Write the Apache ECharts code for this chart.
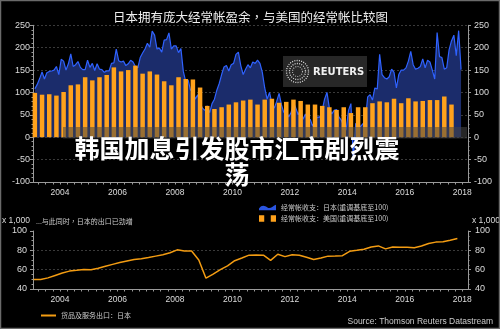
<!DOCTYPE html>
<html><head><meta charset="utf-8">
<script src="https://cdn.jsdelivr.net/npm/echarts@6/dist/echarts.min.js"></script>
<style>html,body{margin:0;padding:0;background:#000;}#c{width:500px;height:329px;}</style>
</head><body><div id="c"></div>
<script>
// ---- data ----
const titleText = '日本拥有庞大经常帐盈余，与美国的经常帐比较图';
const headline = '韩国加息引发股市汇市剧烈震\n荡';
const jpName = '经常帐收支：日本(重调基底至100)';
const usName = '经常帐收支：美国(重调基底至100)';
const exName = '货品及服务出口：日本';
const yearLabels = [2004, 2006, 2008, 2010, 2012, 2014, 2016, 2018];
// Japan current account (monthly, Feb 2003 - Dec 2017)
const jpStart = { year: 2003, month: 2 };
const jp2003 = [108, 118, 131, 146, 130, 144, 147, 148, 150, 158, 140];
const jp2004 = [174, 170, 150, 164, 186, 158, 162, 169, 156, 151, 151, 172];
const jp2005 = [156, 165, 149, 164, 152, 151, 145, 148, 148, 165, 166, 197];
const jp2006 = [171, 168, 170, 160, 164, 172, 168, 158, 155, 178, 188, 197];
const jp2007 = [210, 201, 237, 228, 197, 199, 190, 217, 218, 233, 197, 204];
const jp2008 = [204, 189, 198, 147, 124, 128, 105, 105, 85, 95, 75, 65];
const jp2009 = [60, 70, 55, 75, 85, 105, 120, 140, 157, 160, 148, 162];
const jp2010 = [165, 185, 190, 160, 140, 152, 162, 155, 168, 165, 172, 165];
const jp2011 = [145, 110, 85, 100, 75, 65, 80, 98, 72, 55, 60, 45];
const jp2012 = [55, 78, 65, 50, 62, 40, 52, 30, 40, 25, 35, 45];
const jp2013 = [45, 60, 85, 100, 65, 52, 60, 62, 45, 38, 25, 16];
const jp2014 = [60, 75, -50, 31, 25, 24, 30, 35, 90, 95, 83, 110];
const jp2015 = [108, 185, 140, 133, 130, 135, 152, 145, 110, 140, 150, 150];
const jp2016 = [155, 170, 192, 162, 152, 154, 158, 175, 155, 172, 168, 150];
const jp2017 = [130, 234, 180, 178, 152, 155, 195, 215, 228, 182, 238, 151];
// US current account (quarterly, 2003Q1 - 2017Q3)
const usStartYear = 2003;
const usBars = [99, 95, 96, 93, 101, 116, 118, 134, 127, 134, 139, 156, 147, 150, 160, 142,
  147, 140, 125, 116, 134, 130, 129, 111, 70, 63, 67, 73, 78, 82, 84, 73,
  84, 86, 77, 79, 84, 81, 73, 73, 70, 67, 61, 67, 54, 67, 67, 76,
  80, 78, 86, 76, 87, 80, 81, 83, 83, 91, 73];
// Japan exports of goods & services (quarterly, x1000, 2003Q1 - 2017Q4)
const exStartYear = 2003;
const jpExports = [49.8, 49.8, 51.5, 54, 56.5, 58.5, 59.3, 60.2, 59.9, 61.5, 63.5, 65.5,
  67.5, 69, 70.5, 71.3, 72.5, 74, 75.5, 77.5, 80.5, 79.4, 79.4, 70,
  51.2, 55.3, 60, 64, 69.3, 72, 75, 75.2, 75, 69.6, 75.9, 73.5,
  75.5, 74.9, 72.8, 70.5, 72, 74, 74.2, 74.5, 79, 80, 81.2, 83.5,
  84.6, 81.5, 83.5, 83.3, 83.3, 82.6, 84.5, 87, 88.5, 88.8, 90.5, 92.3];

// ---- build ----
const jpAll = [].concat(jp2003, jp2004, jp2005, jp2006, jp2007, jp2008, jp2009, jp2010,
  jp2011, jp2012, jp2013, jp2014, jp2015, jp2016, jp2017);
const jpData = jpAll.map((v, i) => {
  const m = (jpStart.month - 1) + i;
  return [jpStart.year + (m + 0.5) / 12, v];
});
const usData = usBars.map((v, i) => [usStartYear + (i + 0.5) * 0.25, v]);
const exData = jpExports.map((v, i) => [exStartYear + 0.08 + i * 0.25, v]);
const quarterTicks = [];
for (let t = 2003.25; t <= 2018.01; t += 0.25) quarterTicks.push(+t.toFixed(2));

const xMin = 2003.06, xMax = 2018.2;
const axisColor = '#9a9a9a';
const labelColor = '#dcdcdc';
const font = 'Liberation Sans';

function xAxisFor(grid) {
  return {
    gridIndex: grid, type: 'value', min: xMin, max: xMax,
    axisLine: { show: true, onZero: false, lineStyle: { color: axisColor } },
    axisTick: { show: true, customValues: quarterTicks, length: 2.5, lineStyle: { color: axisColor } },
    axisLabel: { customValues: yearLabels, color: labelColor, fontSize: 8.5, fontFamily: font, margin: 6,
      formatter: v => String(Math.round(v)) },
    splitLine: { show: false }
  };
}
function yAxisFor(grid, pos, min, max, interval, split, margin) {
  return {
    gridIndex: grid, type: 'value', position: pos, min: min, max: max, interval: interval,
    axisLine: { show: true, lineStyle: { color: axisColor } },
    axisTick: { show: true, length: 3, lineStyle: { color: axisColor } },
    minorTick: { show: true, splitNumber: grid === 0 ? 5 : 4, length: 1.5, lineStyle: { color: axisColor } },
    axisLabel: { color: labelColor, fontSize: 9, fontFamily: font, margin: margin,
      formatter: v => String(v) },
    splitLine: { show: split, showMinLine: false, showMaxLine: grid === 0,
      lineStyle: { color: '#3a3a3a', type: [2, 2], width: 1 } }
  };
}

const chart = echarts.init(document.getElementById('c'), null, { renderer: 'canvas' });
chart.setOption({
  backgroundColor: '#000',
  animation: false,
  title: { text: titleText, left: 108, top: 6,
    textStyle: { color: '#eeeeee', fontSize: 12.5, fontWeight: 'normal', fontFamily: 'Noto Sans CJK TC' } },
  grid: [
    { left: 33, right: 32, top: 25.3, bottom: 147 },
    { left: 33, right: 32, top: 231, bottom: 40 }
  ],
  xAxis: [xAxisFor(0), xAxisFor(1)],
  yAxis: [
    yAxisFor(0, 'left', -100, 250, 50, true, 3),
    yAxisFor(0, 'right', -100, 250, 50, false, 6),
    yAxisFor(1, 'left', 40, 100, 20, true, 6),
    yAxisFor(1, 'right', 40, 100, 20, false, 7)
  ],
  legend: [
    { orient: 'vertical', left: 254, top: 199, itemWidth: 17, itemHeight: 7, itemGap: 4,
      textStyle: { color: '#cccccc', fontSize: 7, fontFamily: 'Noto Sans CJK SC' },
      data: [
        { name: jpName, icon: 'path://M0,5 C3,1 6,2 9,4 C12,6 15,2 18,1 L18,7 L0,7 Z', itemStyle: { color: '#2a55e0' } },
        { name: usName, icon: 'path://M0,2 L4,2 L4,7 L0,7 Z M9,2 L13,2 L13,7 L9,7 Z', itemStyle: { color: '#ffa21c' } }
      ] },
    { left: 36, top: 307, itemWidth: 15, itemHeight: 2, icon: 'rect',
      textStyle: { color: '#cccccc', fontSize: 7, fontFamily: 'Noto Sans CJK SC' },
      data: [{ name: exName, itemStyle: { color: '#f39c12' } }] }
  ],
  series: [
    { name: jpName, type: 'line', xAxisIndex: 0, yAxisIndex: 0, data: jpData, showSymbol: false, z: 1,
      lineStyle: { color: '#2f62ff', width: 1.2 }, itemStyle: { color: '#2f62ff' },
      areaStyle: { color: '#1b2c6b', opacity: 1, origin: 0 } },
    { name: usName, type: 'bar', xAxisIndex: 0, yAxisIndex: 0, data: usData, barWidth: 4.5, z: 3,
      itemStyle: { color: '#ffa21c' } },
    { name: exName, type: 'line', xAxisIndex: 1, yAxisIndex: 2, data: exData, showSymbol: false,
      lineStyle: { color: '#f39c12', width: 1.5 }, itemStyle: { color: '#f39c12' } }
  ],
  graphic: [
    { type: 'rect', z: 100, shape: { x: 283, y: 56, width: 84, height: 31 }, style: { fill: 'rgba(42,42,42,0.92)' } },
    { type: 'circle', z: 101, shape: { cx: 297.5, cy: 71.5, r: 11 }, style: { fill: 'none', stroke: '#ddd', lineWidth: 1.3, lineDash: [1, 1.3] } },
    { type: 'circle', z: 101, shape: { cx: 297.5, cy: 71.5, r: 8 }, style: { fill: 'none', stroke: '#ddd', lineWidth: 1.3, lineDash: [1, 1.3] } },
    { type: 'circle', z: 101, shape: { cx: 297.5, cy: 71.5, r: 5 }, style: { fill: 'none', stroke: '#bbb', lineWidth: 1.1, lineDash: [1, 1.3] } },
    { type: 'text', z: 101, style: { x: 313, y: 72, text: 'REUTERS', fill: '#f0f0f0', font: 'bold 10px "DejaVu Sans"', verticalAlign: 'middle', textAlign: 'left' } },
    { type: 'rect', z: 100, shape: { x: 63, y: 127, width: 404, height: 11.5 }, style: { fill: 'rgba(70,70,70,0.55)' } },
    { type: 'text', z: 102, style: { x: 237, y: 161, text: headline, fill: '#ffffff', font: 'bold 25px "Noto Sans CJK SC"', textAlign: 'center', verticalAlign: 'middle', lineHeight: 26 } },
    { type: 'text', z: 100, style: { x: 2, y: 221, text: 'x 1,000', fill: '#dcdcdc', font: '8.5px "Liberation Sans"', verticalAlign: 'middle' } },
    { type: 'text', z: 100, style: { x: 472, y: 221, text: 'x 1,000', fill: '#dcdcdc', font: '8.5px "Liberation Sans"', verticalAlign: 'middle' } },
    { type: 'text', z: 100, style: { x: 36, y: 221, text: '...与此同时，日本的出口已劲增', fill: '#cccccc', font: '7px "Noto Sans CJK TC"', verticalAlign: 'middle' } },
    { type: 'text', z: 100, style: { x: 493, y: 322, text: 'Source: Thomson Reuters Datastream', fill: '#cccccc', font: '8.5px "Liberation Sans"', textAlign: 'right', verticalAlign: 'middle' } },
    { type: 'rect', z: 100, shape: { x: 0.5, y: 0.5, width: 499, height: 328 }, style: { fill: 'none', stroke: '#6a6a6a', lineWidth: 1.5 } }
  ]
});
</script></body></html>
